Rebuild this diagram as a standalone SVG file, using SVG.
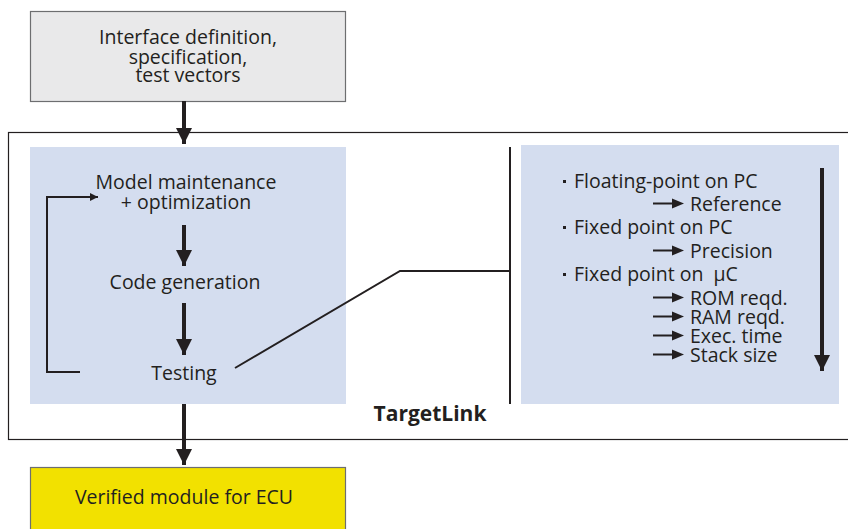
<svg xmlns="http://www.w3.org/2000/svg" width="848" height="529" viewBox="0 0 848 529">
<style>
text{font-family:"Open Sans","Noto Sans",sans-serif;font-size:19.5px;fill:#231f20}
.c{text-anchor:middle}
.thick{stroke:#231f20;stroke-width:4;fill:none}
.thin{stroke:#231f20;stroke-width:2;fill:none}
</style>
<defs>
<marker id="ah" viewBox="0 0 10 10" refX="10" refY="5" markerWidth="4.5" markerHeight="4" orient="auto" markerUnits="strokeWidth"><path d="M0,0L10,5L0,10z" fill="#231f20"/></marker>
<marker id="sh" viewBox="0 0 10 10" refX="10" refY="5" markerWidth="6" markerHeight="4" orient="auto" markerUnits="strokeWidth"><path d="M0,0L10,5L0,10z" fill="#231f20"/></marker>
</defs>
<rect width="848" height="529" fill="#fff"/>
<g id="targetlink">
<rect x="8.5" y="132.5" width="845" height="307" fill="none" stroke="#231f20" stroke-width="1.2"/>
<text x="430" y="421" class="c" style="font-weight:bold;font-size:21px">TargetLink</text>
</g>
<g id="spec">
<rect x="30.5" y="11.5" width="315" height="90" fill="#e9e9ea" stroke="#6d6e70" stroke-width="1.2"/>
<text x="188" y="44" class="c">Interface definition,</text>
<text x="188" y="63.5" class="c">specification,</text>
<text x="188" y="82" class="c">test vectors</text>
</g>
<g id="process">
<rect x="30" y="147" width="316" height="257" fill="#d4ddef"/>
<text x="186" y="189" class="c">Model maintenance</text>
<text x="186" y="208.5" class="c">+ optimization</text>
<text x="185" y="288.5" class="c">Code generation</text>
<text x="184" y="379.5" class="c">Testing</text>
</g>
<g id="checks">
<rect x="521" y="145" width="318" height="259" fill="#d4ddef"/>
<rect x="563" y="180" width="3" height="3" fill="#231f20"/>
<rect x="563" y="226" width="3" height="3" fill="#231f20"/>
<rect x="563" y="273" width="3" height="3" fill="#231f20"/>
<text x="574" y="187.5">Floating-point on PC</text>
<text x="690" y="210.5">Reference</text>
<text x="574" y="233.5">Fixed point on PC</text>
<text x="690" y="257.5">Precision</text>
<text x="574" y="280.5">Fixed point on&#160; μC</text>
<text x="690" y="304.5">ROM reqd.</text>
<text x="690" y="323.5">RAM reqd.</text>
<text x="690" y="342.5">Exec. time</text>
<text x="690" y="361.5">Stack size</text>
</g>
<g id="result">
<rect x="30.5" y="467.5" width="315" height="70" fill="#f2e100" stroke="#6d6e70" stroke-width="1.2"/>
<text x="184" y="504" class="c">Verified module for ECU</text>
</g>
<g id="connectors">
<line x1="184" y1="101" x2="184" y2="144" class="thick" marker-end="url(#ah)"/>
<line x1="184" y1="225" x2="184" y2="266" class="thick" marker-end="url(#ah)"/>
<line x1="184" y1="303" x2="184" y2="355" class="thick" marker-end="url(#ah)"/>
<line x1="184" y1="404" x2="184" y2="465" class="thick" marker-end="url(#ah)"/>
<polyline points="80,372 47,372 47,197 98,197" class="thin" marker-end="url(#sh)"/>
<polyline points="235,368 400,271 510,271" class="thin"/>
<line x1="510" y1="147" x2="510" y2="404" class="thin"/>
<line x1="822" y1="168" x2="822" y2="371" class="thick" marker-end="url(#ah)"/>
<g stroke="#231f20" stroke-width="2" fill="#231f20">
<line x1="653" y1="203.5" x2="674" y2="203.5"/><path d="M672,198.5L684,203.5L672,208.5z" stroke="none"/>
<line x1="653" y1="250.5" x2="674" y2="250.5"/><path d="M672,245.5L684,250.5L672,255.5z" stroke="none"/>
<line x1="653" y1="297.5" x2="674" y2="297.5"/><path d="M672,292.5L684,297.5L672,302.5z" stroke="none"/>
<line x1="653" y1="316.5" x2="674" y2="316.5"/><path d="M672,311.5L684,316.5L672,321.5z" stroke="none"/>
<line x1="653" y1="335.5" x2="674" y2="335.5"/><path d="M672,330.5L684,335.5L672,340.5z" stroke="none"/>
<line x1="653" y1="354.5" x2="674" y2="354.5"/><path d="M672,349.5L684,354.5L672,359.5z" stroke="none"/>
</g>
</g>
</svg>
